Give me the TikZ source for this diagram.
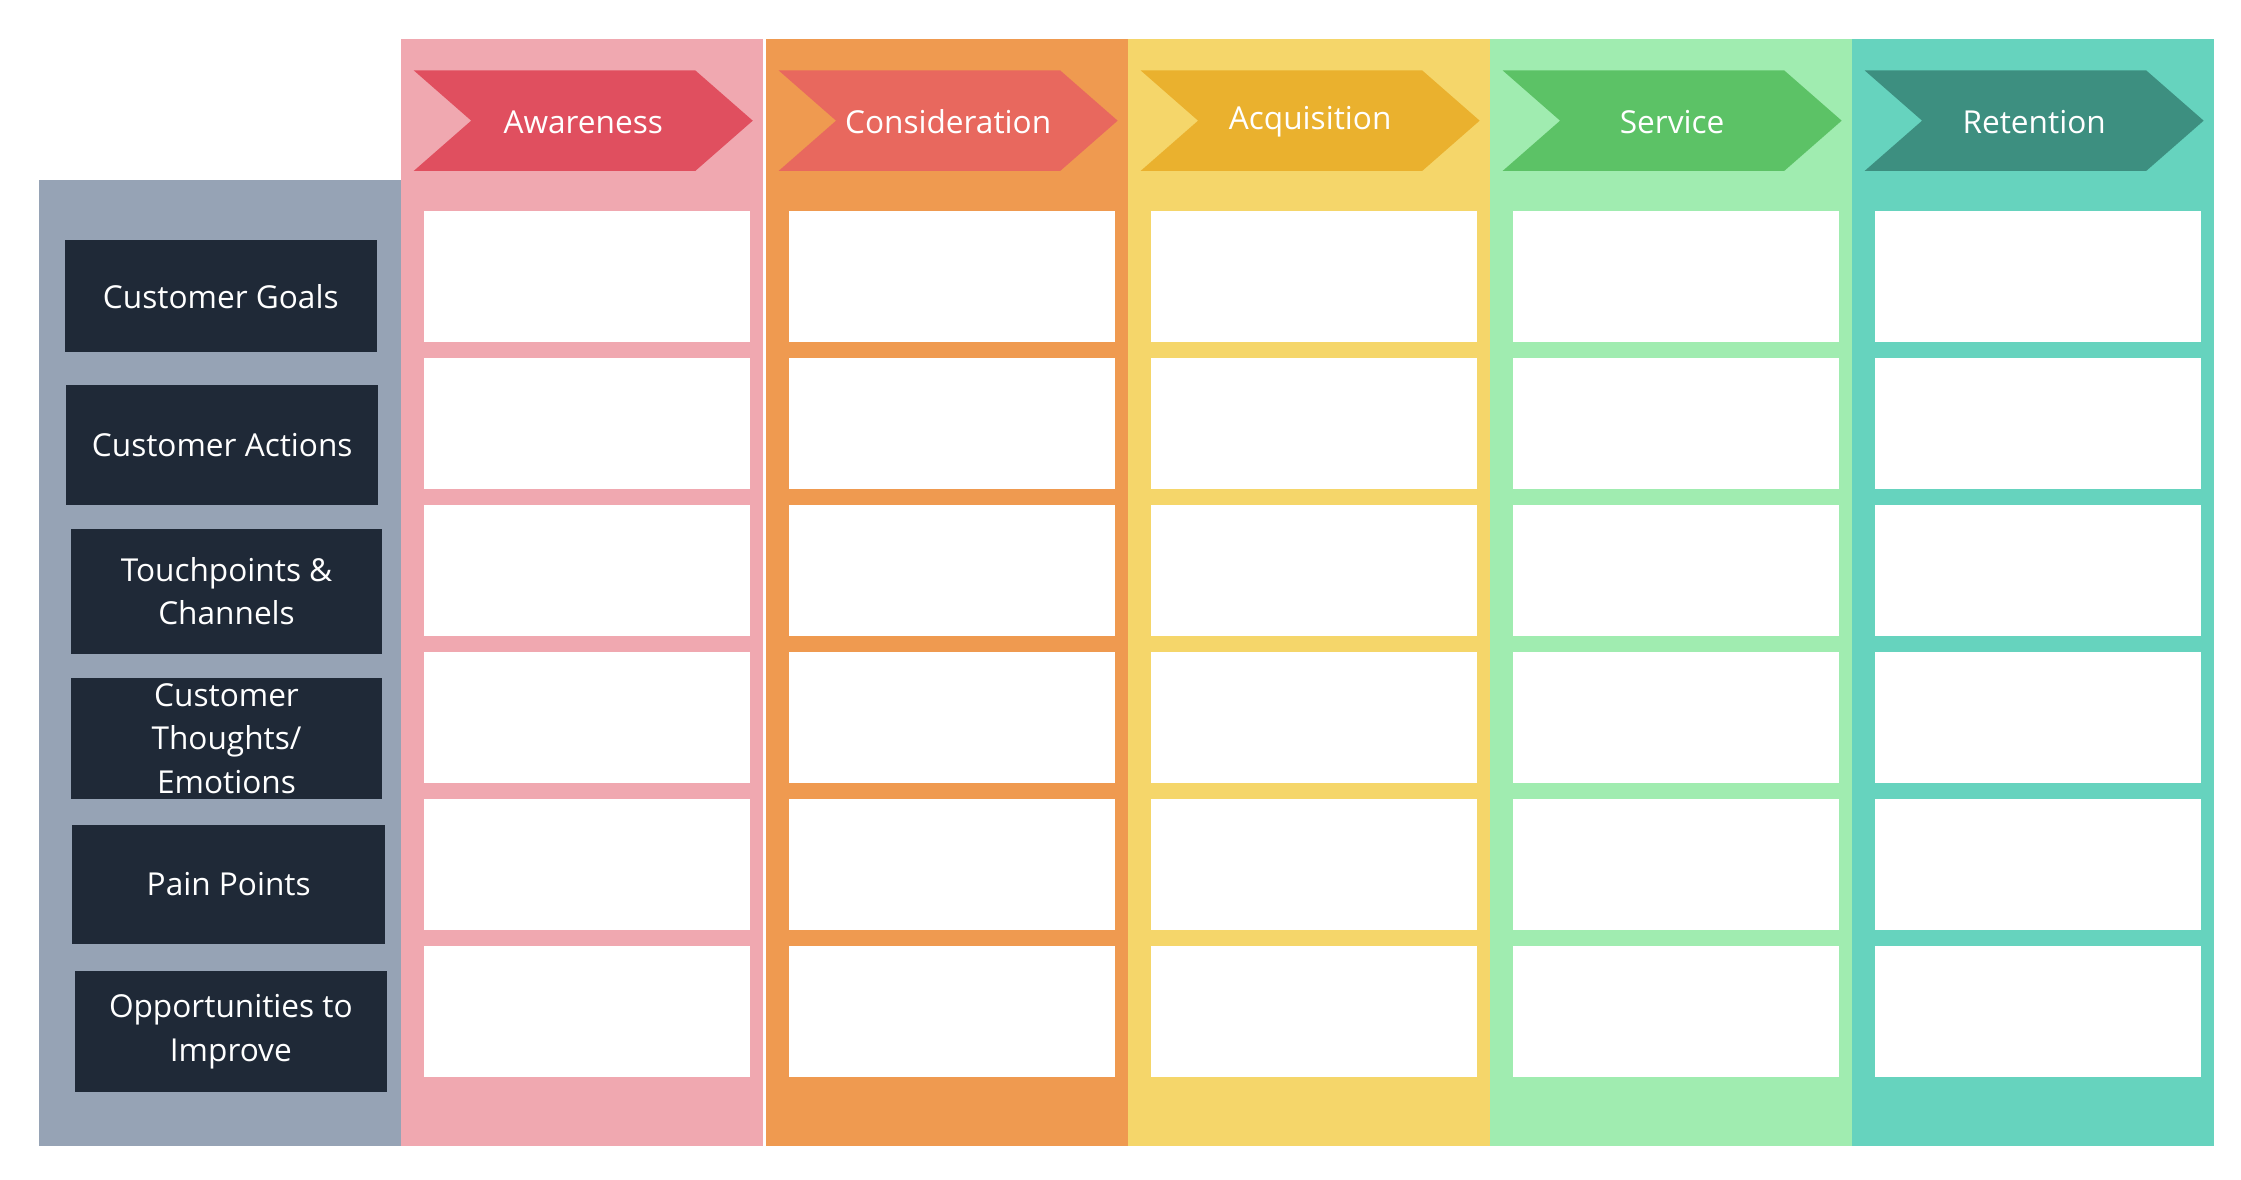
\documentclass[tikz,border=0pt]{standalone}
\usepackage{fontspec}
\setmainfont{Open Sans}
\definecolor{lgray}{HTML}{96A3B5}
\definecolor{dark}{HTML}{1F2937}
\definecolor{c1}{HTML}{F0A8B0}\definecolor{h1}{HTML}{E04F5F}
\definecolor{c2}{HTML}{EF9A50}\definecolor{h2}{HTML}{E8685E}
\definecolor{c3}{HTML}{F5D66A}\definecolor{h3}{HTML}{EAB12E}
\definecolor{c4}{HTML}{A0ECB0}\definecolor{h4}{HTML}{5CC266}
\definecolor{c5}{HTML}{66D3BE}\definecolor{h5}{HTML}{3D8F80}
\tikzset{lab/.style={fill=dark,text=white,align=center,font=\fontsize{22}{30}\selectfont,inner sep=0pt,anchor=north west},
cell/.style={fill=white,inner sep=0pt,anchor=north west,minimum width=227pt,minimum height=91pt},
htxt/.style={text=white,font=\fontsize{22}{26}\selectfont}}
\begin{document}
\begin{tikzpicture}[x=1pt,y=-1pt]
\useasboundingbox (0,0) rectangle (1560,821);
\fill[lgray] (27,125) rectangle (279,798);
\foreach \i/\x/\n in {1/279/Awareness,2/533/Consideration,3/785/Acquisition,4/1037/Service,5/1289/Retention}{
  \fill[c\i] (\x,27) rectangle ({\x+252},798);
  \fill[h\i] (\x+9,49) -- (\x+205,49) -- (\x+245,84) -- (\x+205,119) -- (\x+9,119) -- (\x+49,84) -- cycle;
  \node[htxt] (h\i) at (\x+127,85) {\n};
  \foreach \r in {0,...,5}{
    \node[cell] (b\i\r) at (\x+16,147+\r*102.3) {};
  }
}
\node[lab,minimum width=217pt,minimum height=78pt] (l1) at (45,167) {Customer Goals};
\node[lab,minimum width=217pt,minimum height=83pt] (l2) at (46,268) {Customer Actions};
\node[lab,minimum width=217pt,minimum height=87pt] (l3) at (49,368) {Touchpoints \&\\Channels};
\node[lab,minimum width=217pt,minimum height=84pt] (l4) at (49,472) {Customer\\Thoughts/\\Emotions};
\node[lab,minimum width=218pt,minimum height=83pt] (l5) at (50,574) {Pain Points};
\node[lab,minimum width=217pt,minimum height=84pt] (l6) at (52,676) {Opportunities to\\Improve};
\end{tikzpicture}
\end{document}
